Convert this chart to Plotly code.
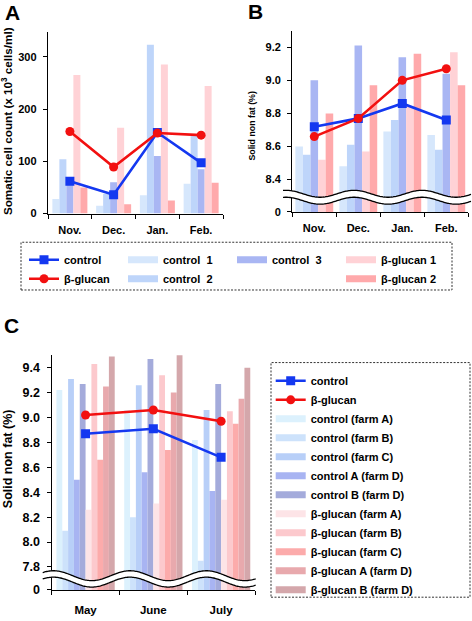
import numpy as np
import plotly.graph_objects as go

# ---------------- data ----------------
months_ab = ['Nov.', 'Dec.', 'Jan.', 'Feb.']

# Panel A: somatic cell count (x 10^3 cells/ml)
scc_control1 = [28, 15, 35, 57]
scc_control2 = [104, 38, 323, 150]
scc_control3 = [58, 60, 110, 85]
scc_bglucan1 = [265, 164, 285, 244]
scc_bglucan2 = [50, 18, 25, 59]
scc_control_mean = [62, 36, 155, 97]
scc_bglucan_mean = [157, 89, 154, 150]

# Panel B: solid non fat (%)
snf_control1 = [8.60, 8.48, 8.69, 8.67]
snf_control2 = [8.55, 8.61, 8.76, 8.58]
snf_control3 = [9.00, 9.21, 9.14, 9.04]
snf_bglucan1 = [8.52, 8.57, 8.84, 9.17]
snf_bglucan2 = [8.80, 8.97, 9.16, 8.97]
snf_control_mean = [8.72, 8.77, 8.86, 8.76]
snf_bglucan_mean = [8.66, 8.77, 9.00, 9.07]

# Panel C: solid non fat (%)
months_c = ['May', 'June', 'July']
c_farmA = [9.22, 9.06, 8.82]
c_farmB = [8.09, 8.20, 7.85]
c_farmC = [9.31, 9.26, 9.06]
c_farmD_A = [8.50, 8.56, 8.41]
c_farmD_B = [9.27, 9.47, 9.27]
b_farmA = [8.26, 8.31, 8.34]
b_farmB = [9.43, 9.34, 9.05]
b_farmC = [8.66, 8.74, 8.95]
b_farmD_A = [9.25, 9.20, 9.15]
b_farmD_B = [9.49, 9.52, 9.40]
c_mean = [8.87, 8.91, 8.68]
b_mean = [9.02, 9.06, 8.97]

ticks_a = [0, 100, 200, 300]
ticks_b = [8.205, 8.4, 8.6, 8.8, 9.0, 9.2]
ticktext_b = ['0', '8.4', '8.6', '8.8', '9.0', '9.2']
ticks_c = [7.615, 7.8, 8.0, 8.2, 8.4, 8.6, 8.8, 9.0, 9.2, 9.4]
ticktext_c = ['0', '7.8', '8.0', '8.2', '8.4', '8.6', '8.8', '9.0', '9.2', '9.4']

# ---------------- style ----------------
W, H = 472, 621
def px(x): return x / W
def py(y): return 1 - y / H

FONT = 'Arial, Liberation Sans, Helvetica, sans-serif'
BLUE = '#1438f0'
RED = '#f21010'
ab_colors = ['#d6e7fc', '#bed5fa', '#a9b6f3', '#ffd2d6', '#ffa9ab']
c_colors = ['#dcf1fd', '#cde2fb', '#b8cff8', '#a8b4f2', '#a4abdb',
            '#fde4e7', '#fcc9cd', '#fcabab', '#e8a9ad', '#d4a7ab']

fig = go.Figure()

def add_bars(series, names, colors, xa, ya, cats, group_w):
    n = len(series)
    bw = group_w / n
    for k, (vals, nm, col) in enumerate(zip(series, names, colors)):
        fig.add_trace(go.Bar(x=cats, y=vals, name=nm, width=bw,
                             offset=-group_w / 2 + k * bw,
                             marker=dict(color=col, line=dict(width=0)),
                             xaxis=xa, yaxis=ya, showlegend=False))

def add_legend_swatch(name, color, legend):
    fig.add_trace(go.Scatter(x=[None], y=[None], mode='lines', name=name,
                             line=dict(color=color, width=7), legend=legend,
                             xaxis='x', yaxis='y', hoverinfo='skip'))

def add_mean(vals, cats, xa, ya, color, symbol, name, show, legend='legend'):
    fig.add_trace(go.Scatter(x=cats, y=vals, mode='lines+markers', name=name,
                             line=dict(color=color, width=2.6),
                             marker=dict(color=color, symbol=symbol, size=9),
                             xaxis=xa, yaxis=ya, showlegend=show, legend=legend))

# Panel A
add_bars([scc_control1, scc_control2, scc_control3, scc_bglucan1, scc_bglucan2],
         ['control 1', 'control 2', 'control 3', 'β-glucan 1', 'β-glucan 2'],
         ab_colors, 'x', 'y', months_ab, 0.80)
add_mean(scc_control_mean, months_ab, 'x', 'y', BLUE, 'square', 'control', True, 'legend')
add_mean(scc_bglucan_mean, months_ab, 'x', 'y', RED, 'circle', 'β-glucan', True, 'legend')

# Panel B
add_bars([snf_control1, snf_control2, snf_control3, snf_bglucan1, snf_bglucan2],
         ['control 1', 'control 2', 'control 3', 'β-glucan 1', 'β-glucan 2'],
         ab_colors, 'x2', 'y2', months_ab, 0.86)
add_mean(snf_control_mean, months_ab, 'x2', 'y2', BLUE, 'square', 'control', False)
add_mean(snf_bglucan_mean, months_ab, 'x2', 'y2', RED, 'circle', 'β-glucan', False)

# legend swatches for A/B
add_legend_swatch('control\u00a0 1', ab_colors[0], 'legend2')
add_legend_swatch('control\u00a0 2', ab_colors[1], 'legend2')
add_legend_swatch('control\u00a0 3', ab_colors[2], 'legend3')
add_legend_swatch('β-glucan 1', ab_colors[3], 'legend4')
add_legend_swatch('β-glucan 2', ab_colors[4], 'legend4')

# Panel C
c_names = ['control (farm A)', 'control (farm B)', 'control (farm C)',
           'control A (farm D)', 'control B (farm D)',
           'β-glucan (farm A)', 'β-glucan (farm B)', 'β-glucan (farm C)',
           'β-glucan A (farm D)', 'β-glucan B (farm D)']
add_bars([c_farmA, c_farmB, c_farmC, c_farmD_A, c_farmD_B,
          b_farmA, b_farmB, b_farmC, b_farmD_A, b_farmD_B],
         c_names, c_colors, 'x3', 'y3', months_c, 0.86)
add_mean(c_mean, months_c, 'x3', 'y3', BLUE, 'square', 'control', True, 'legend5')
add_mean(b_mean, months_c, 'x3', 'y3', RED, 'circle', 'β-glucan', True, 'legend5')
for nm, col in zip(c_names, c_colors):
    add_legend_swatch(nm, col, 'legend5')

# ---------------- axes ----------------
def xax(dom, cats, anchor, size=11, standoff=6):
    return dict(domain=dom, type='category', categoryorder='array', categoryarray=cats,
                range=[-0.5, len(cats) - 0.5], showline=True, linecolor='black',
                linewidth=1.4, ticks='outside', tickson='boundaries', ticklen=4,
                tickwidth=1.2, tickcolor='black', showgrid=False, zeroline=False,
                tickfont=dict(family=FONT, size=size, color='black', weight='bold'),
                ticklabelstandoff=standoff, anchor=anchor, fixedrange=True)

def yax(dom, rng, tv, tt, anchor, size=11, standoff=4):
    return dict(domain=dom, range=rng, tickvals=tv, ticktext=tt, showline=True,
                linecolor='black', linewidth=1.4, ticks='outside', ticklen=4,
                tickwidth=1.2, tickcolor='black', showgrid=False, zeroline=False,
                tickfont=dict(family=FONT, size=size, color='black', weight='bold'),
                ticklabelstandoff=standoff, anchor=anchor, fixedrange=True)

fig.update_layout(
    width=W, height=H, margin=dict(l=0, r=0, t=0, b=0),
    paper_bgcolor='white', plot_bgcolor='rgba(0,0,0,0)',
    barmode='overlay', font=dict(family=FONT, color='black'),
    xaxis=xax([px(48), px(223)], months_ab, 'y'),
    yaxis=yax([py(216), py(32)], [0, 348], ticks_a, [str(t) for t in ticks_a], 'x'),
    xaxis2=xax([px(292.3), px(468.3)], months_ab, 'y2'),
    yaxis2=yax([py(214.3), py(31.7)], [8.205, 9.296], ticks_b, ticktext_b, 'x2'),
    xaxis3=xax([px(51.7), px(255)], months_c, 'y3', size=11.5, standoff=9),
    yaxis3=yax([py(596.7), py(359.3)], [7.615, 9.5], ticks_c, ticktext_c, 'x3', size=12.5),
)

leg_common = dict(orientation='v', xanchor='left', yanchor='top', bgcolor='rgba(0,0,0,0)',
                  borderwidth=0, tracegroupgap=0,
                  font=dict(family=FONT, size=11, color='black', weight='bold'))
fig.update_layout(
    legend=dict(x=px(24), y=py(248), **leg_common),
    legend2=dict(x=px(123), y=py(248), **leg_common),
    legend3=dict(x=px(232), y=py(248), **leg_common),
    legend4=dict(x=px(341), y=py(248), **leg_common),
    legend5=dict(x=px(270.7), y=py(370.5), **leg_common),
)

# ---------------- decorations ----------------
shapes = []
def rect_dashed(x0, y0, x1, y1):
    shapes.append(dict(type='rect', xref='paper', yref='paper', x0=px(x0), x1=px(x1),
                       y0=py(y1), y1=py(y0), line=dict(color='#333333', width=1, dash='2px,1.5px'),
                       fillcolor='rgba(0,0,0,0)', layer='above'))

rect_dashed(21, 245, 452, 293.3)
rect_dashed(271, 366.7, 470, 604)

def wave(x0, x1, yc, amp, thick, period, crest_x):
    xs = np.arange(x0, x1 + 0.5, 1.0)
    base = yc - amp * np.cos(2 * np.pi * (xs - crest_x) / period)
    top = base - thick / 2
    bot = base + thick / 2
    def pts(xv, yv):
        return ' '.join('L{:.5f},{:.5f}'.format(px(a), py(b)) for a, b in zip(xv, yv))
    fill = 'M{:.5f},{:.5f} '.format(px(xs[0]), py(top[0])) + pts(xs[1:], top[1:]) + ' ' \
        + pts(xs[::-1], bot[::-1]) + ' Z'
    shapes.append(dict(type='path', xref='paper', yref='paper', path=fill,
                       fillcolor='white', line=dict(width=0), layer='above'))
    for yy in (top, bot):
        p = 'M{:.5f},{:.5f} '.format(px(xs[0]), py(yy[0])) + pts(xs[1:], yy[1:])
        shapes.append(dict(type='path', xref='paper', yref='paper', path=p,
                           fillcolor='rgba(0,0,0,0)', line=dict(color='black', width=1.3),
                           layer='above'))

wave(283, 471, 199.5, 3.5, 7.0, 68, 422)
wave(42.7, 256, 585.5, 5.0, 6.5, 76.5, 130)

fig.update_layout(shapes=shapes)

ann = []
def label(text, x, y, size, angle=0, weight='bold', xanchor='center'):
    ann.append(dict(text=text, x=px(x), y=py(y), xref='paper', yref='paper', showarrow=False,
                    textangle=angle, xanchor=xanchor, yanchor='middle',
                    font=dict(family=FONT, size=size, color='black', weight=weight)))

label('A', 3, 13, 21, xanchor='left')
label('B', 246, 12, 21, xanchor='left')
label('C', 2, 329, 21, xanchor='left')
label('Somatic cell count (x 10<sup>3</sup> cells/ml)', 7, 122.5, 11.7, angle=-90)
label('Solid non fat (%)', 252.5, 127.5, 8.8, angle=-90)
label('Solid non fat (%)', 8.7, 463.7, 12.5, angle=-90)
fig.update_layout(annotations=ann)

fig.write_html('out.html', config={'displayModeBar': False},
               post_script="document.body.style.margin='0';document.body.style.overflow='hidden';")
